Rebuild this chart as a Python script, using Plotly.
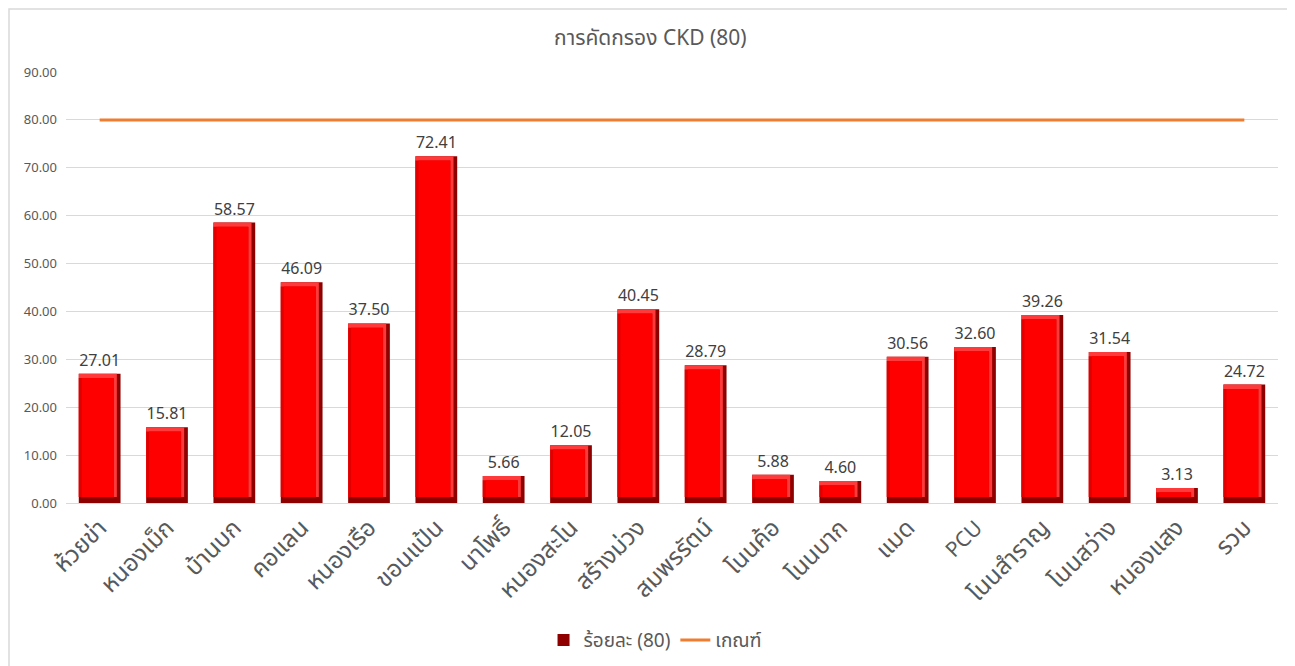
import plotly.graph_objects as go

categories = ["ห้วยข่า", "หนองเม็ก", "บ้านบก", "คอแลน", "หนองเรือ", "ขอนแป้น", "นาโพธิ์",
              "หนองสะโน", "สร้างม่วง", "สมพรรัตน์", "โนนค้อ", "โนนบาก", "แมด", "PCU",
              "โนนสำราญ", "โนนสว่าง", "หนองแสง", "รวม"]
percent_values = [27.01, 15.81, 58.57, 46.09, 37.50, 72.41, 5.66, 12.05, 40.45, 28.79,
                  5.88, 4.60, 30.56, 32.60, 39.26, 31.54, 3.13, 24.72]
criterion_values = [80] * len(categories)
y_ticks = [0, 10, 20, 30, 40, 50, 60, 70, 80, 90]

FONT = "Noto Sans, Noto Sans Thai, DejaVu Sans, sans-serif"
GRAY = "#595959"

BOTTOM_BEVEL = 1.25
TOP_BEVEL = 0.9

# page body has an 8px margin; layout is expressed in figure pixels
ML, MT = 58, 64
PLOT_W, PLOT_H = 1212, 431
FIG_W, FIG_H = 1295, 666

# Latin label rendered smaller so it matches the Thai labels' visual size
tick_text = [f"<span style='font-size:21px'>{c}</span>" if c.isascii() else c for c in categories]

fig = go.Figure()

fig.add_trace(go.Bar(
    x=categories, y=percent_values, name="ร้อยละ (80)",
    marker=dict(color="#8E0000", line=dict(width=0)),
    width=0.62, offset=-0.31,
    text=[f"{v:.2f}" for v in percent_values], textposition="outside",
    textfont=dict(size=16, color="#404040", family=FONT),
    cliponaxis=False, legendgroup="pct", showlegend=True,
))
fig.add_trace(go.Bar(
    x=categories, y=[v - BOTTOM_BEVEL for v in percent_values], base=BOTTOM_BEVEL,
    marker=dict(color="#FF3A3A", line=dict(width=0)),
    width=0.565, offset=-0.31, textposition="none",
    legendgroup="pct", showlegend=False, hoverinfo="skip",
))
fig.add_trace(go.Bar(
    x=categories, y=[v - BOTTOM_BEVEL - TOP_BEVEL for v in percent_values], base=BOTTOM_BEVEL,
    marker=dict(color="#E00000", line=dict(width=0)),
    width=0.52, offset=-0.31, textposition="none",
    legendgroup="pct", showlegend=False, hoverinfo="skip",
))
fig.add_trace(go.Bar(
    x=categories, y=[v - BOTTOM_BEVEL - TOP_BEVEL for v in percent_values], base=BOTTOM_BEVEL,
    marker=dict(color="#FF0000", line=dict(width=0)),
    width=0.47, offset=-0.265, textposition="none",
    legendgroup="pct", showlegend=False, hoverinfo="skip",
))

fig.add_trace(go.Scatter(
    x=categories, y=criterion_values, name="เกณฑ์", mode="lines",
    line=dict(color="#ED7D31", width=3),
))

fig.update_layout(
    width=FIG_W, height=FIG_H,
    barmode="overlay",
    paper_bgcolor="white", plot_bgcolor="white",
    margin=dict(l=ML, r=FIG_W - ML - PLOT_W, t=MT, b=FIG_H - MT - PLOT_H, autoexpand=False),
    font=dict(family=FONT, color=GRAY),
    title=dict(text="การคัดกรอง CKD (80)", x=0.496, xanchor="center", y=0.955, yanchor="middle",
               font=dict(size=21, color=GRAY, family=FONT)),
    showlegend=True,
    legend=dict(orientation="h", x=0.486, xanchor="center", y=-0.318, yanchor="middle",
                font=dict(size=19, color=GRAY, family=FONT), traceorder="normal"),
    bargap=0.38,
)
fig.update_xaxes(
    type="category", tickangle=-45, tickfont=dict(size=24, color=GRAY, family=FONT),
    tickmode="array", tickvals=categories, ticktext=tick_text,
    showline=True, linecolor="#D9D9D9", linewidth=1, ticks="", showgrid=False,
    automargin=False,
)
fig.update_yaxes(
    range=[0, 90], tickvals=y_ticks, tickformat=".2f",
    tickfont=dict(size=13, color=GRAY, family=FONT),
    showgrid=True, gridcolor="#D9D9D9", gridwidth=1, zeroline=False,
    showline=False, ticks="", ticklabelstandoff=8, automargin=False,
)

# chart frame
fig.add_shape(type="rect", xref="paper", yref="paper",
              x0=(1 - ML) / PLOT_W, x1=(1282 - ML) / PLOT_W,
              y0=(MT + PLOT_H - 700) / PLOT_H, y1=(MT + PLOT_H - 1) / PLOT_H,
              line=dict(color="#D9D9D9", width=1.5), fillcolor="rgba(0,0,0,0)", layer="below")

fig.write_html("out.html")
